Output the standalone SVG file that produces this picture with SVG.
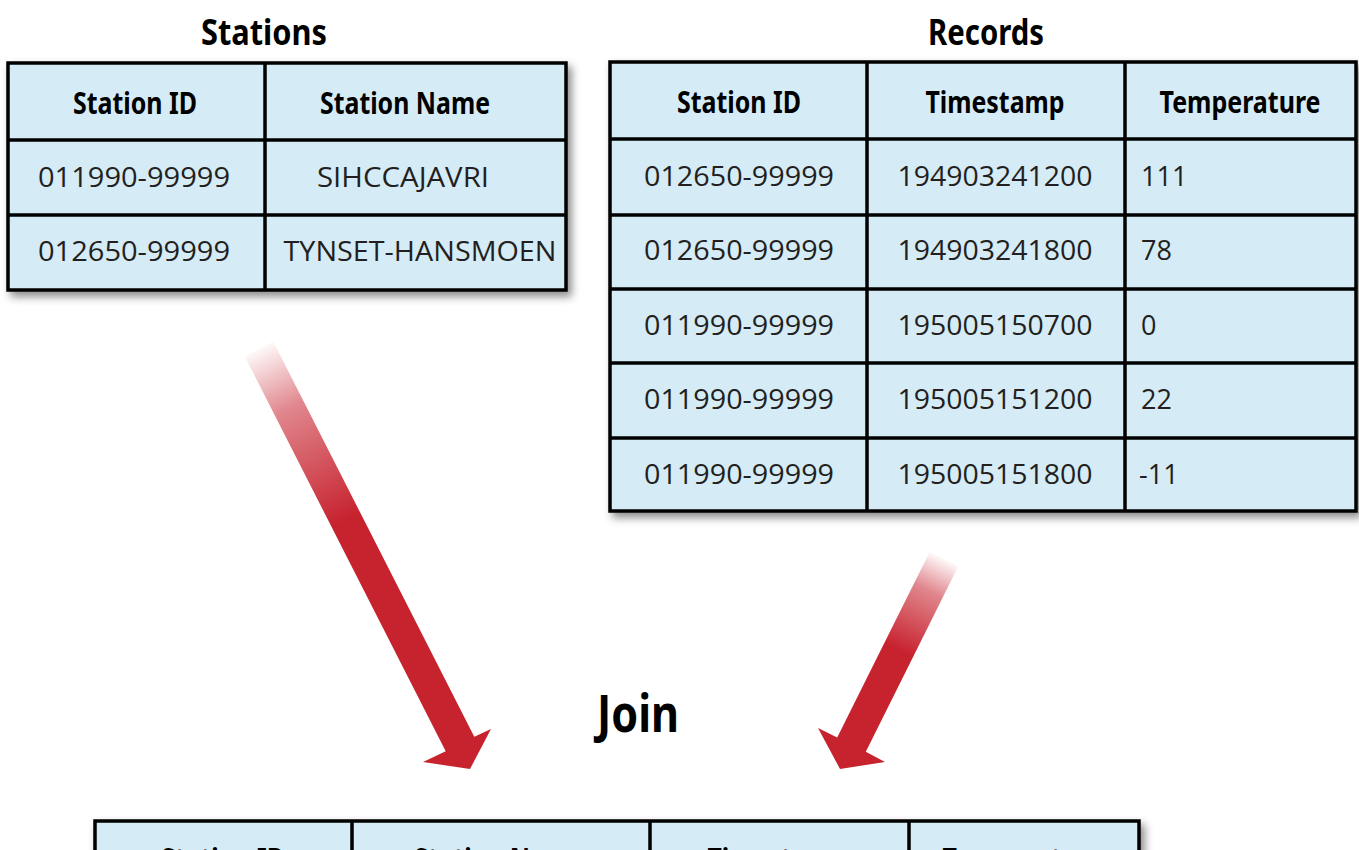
<svg xmlns="http://www.w3.org/2000/svg" width="1359" height="850" viewBox="0 0 1359 850">
<defs>
<filter id="sh" x="-5%" y="-5%" width="115%" height="120%">
<feDropShadow dx="4" dy="5" stdDeviation="4" flood-color="#000" flood-opacity="0.45"/>
</filter>
<linearGradient id="gL" gradientUnits="userSpaceOnUse" x1="259" y1="349" x2="345" y2="520">
<stop offset="0" stop-color="#c7232f" stop-opacity="0.03"/>
<stop offset="0.35" stop-color="#c7232f" stop-opacity="0.55"/>
<stop offset="1" stop-color="#c7232f" stop-opacity="1"/>
</linearGradient>
<linearGradient id="gR" gradientUnits="userSpaceOnUse" x1="944" y1="559" x2="900" y2="650">
<stop offset="0" stop-color="#c7232f" stop-opacity="0.03"/>
<stop offset="0.35" stop-color="#c7232f" stop-opacity="0.55"/>
<stop offset="1" stop-color="#c7232f" stop-opacity="1"/>
</linearGradient>
</defs>
<style>
.cell{fill:#d5ebf6;stroke:#000;stroke-width:3.5}
.ln{stroke:#000;stroke-width:3.5;fill:none}
.title{font-family:"Noto Sans","DejaVu Sans",sans-serif;font-weight:bold;font-size:36px;fill:#000;text-anchor:middle}
.hd{font-family:"Noto Sans","DejaVu Sans",sans-serif;font-weight:bold;font-size:31px;fill:#000;text-anchor:middle}
.tx{font-family:"Open Sans","Noto Sans",sans-serif;font-size:27px;fill:#231f20;text-anchor:middle}
.tl{font-family:"Open Sans","Noto Sans",sans-serif;font-size:27px;fill:#231f20;text-anchor:start}
</style>
<rect width="1359" height="850" fill="#fff"/>

<g id="stations">
<text class="title" x="264" y="45" textLength="126" lengthAdjust="spacingAndGlyphs">Stations</text>
<g filter="url(#sh)">
<rect class="cell" x="8" y="63" width="558" height="227"/>
</g>
<line class="ln" x1="265" y1="63" x2="265" y2="290"/>
<line class="ln" x1="8" y1="140" x2="566" y2="140"/>
<line class="ln" x1="8" y1="215" x2="566" y2="215"/>
<text class="hd" x="135" y="114" textLength="124" lengthAdjust="spacingAndGlyphs">Station ID</text>
<text class="hd" x="405" y="114" textLength="170" lengthAdjust="spacingAndGlyphs">Station Name</text>
<text class="tx" x="134" y="187" textLength="192" lengthAdjust="spacingAndGlyphs">011990-99999</text>
<text class="tx" x="403" y="187" textLength="172" lengthAdjust="spacingAndGlyphs">SIHCCAJAVRI</text>
<text class="tx" x="134" y="261" textLength="192" lengthAdjust="spacingAndGlyphs">012650-99999</text>
<text class="tx" x="420" y="261" textLength="273" lengthAdjust="spacingAndGlyphs">TYNSET-HANSMOEN</text>
</g>

<g id="records">
<text class="title" x="986" y="45" textLength="116" lengthAdjust="spacingAndGlyphs">Records</text>
<g filter="url(#sh)">
<rect class="cell" x="610" y="62" width="746" height="449"/>
</g>
<line class="ln" x1="867" y1="62" x2="867" y2="511"/>
<line class="ln" x1="1125" y1="62" x2="1125" y2="511"/>
<line class="ln" x1="610" y1="139" x2="1356" y2="139"/>
<line class="ln" x1="610" y1="215" x2="1356" y2="215"/>
<line class="ln" x1="610" y1="289" x2="1356" y2="289"/>
<line class="ln" x1="610" y1="363" x2="1356" y2="363"/>
<line class="ln" x1="610" y1="438" x2="1356" y2="438"/>
<text class="hd" x="739" y="113" textLength="124" lengthAdjust="spacingAndGlyphs">Station ID</text>
<text class="hd" x="995" y="113" textLength="139" lengthAdjust="spacingAndGlyphs">Timestamp</text>
<text class="hd" x="1240" y="113" textLength="161" lengthAdjust="spacingAndGlyphs">Temperature</text>
<text class="tx" x="739" y="186" textLength="190" lengthAdjust="spacingAndGlyphs">012650-99999</text>
<text class="tx" x="995" y="186" textLength="195" lengthAdjust="spacingAndGlyphs">194903241200</text>
<text class="tl" x="1141" y="186">111</text>
<text class="tx" x="739" y="260" textLength="190" lengthAdjust="spacingAndGlyphs">012650-99999</text>
<text class="tx" x="995" y="260" textLength="195" lengthAdjust="spacingAndGlyphs">194903241800</text>
<text class="tl" x="1141" y="260">78</text>
<text class="tx" x="739" y="335" textLength="190" lengthAdjust="spacingAndGlyphs">011990-99999</text>
<text class="tx" x="995" y="335" textLength="195" lengthAdjust="spacingAndGlyphs">195005150700</text>
<text class="tl" x="1141" y="335">0</text>
<text class="tx" x="739" y="409" textLength="190" lengthAdjust="spacingAndGlyphs">011990-99999</text>
<text class="tx" x="995" y="409" textLength="195" lengthAdjust="spacingAndGlyphs">195005151200</text>
<text class="tl" x="1141" y="409">22</text>
<text class="tx" x="739" y="484" textLength="190" lengthAdjust="spacingAndGlyphs">011990-99999</text>
<text class="tx" x="995" y="484" textLength="195" lengthAdjust="spacingAndGlyphs">195005151800</text>
<text class="tl" x="1139" y="484">-11</text>
</g>

<g id="connectors">
<polygon fill="url(#gL)" points="244.7,356.2 273.3,341.8 474.3,736.8 491,729 470,769 423,762 445.7,751.2"/>
<polygon fill="url(#gR)" points="929.7,551.9 958.3,566.2 865.8,751.7 885,762 840,769 818,728 837.2,737.4"/>
</g>

<g id="join">
<text class="title" x="638" y="732" font-size="52" textLength="82" lengthAdjust="spacingAndGlyphs" style="font-size:52px">Join</text>
</g>

<g id="result">
<g filter="url(#sh)">
<rect class="cell" x="95" y="821" width="1044" height="100"/>
</g>
<line class="ln" x1="352" y1="821" x2="352" y2="921"/>
<line class="ln" x1="650" y1="821" x2="650" y2="921"/>
<line class="ln" x1="909" y1="821" x2="909" y2="921"/>
<text class="hd" x="223" y="870" textLength="124" lengthAdjust="spacingAndGlyphs">Station ID</text>
<text class="hd" x="499" y="870" textLength="170" lengthAdjust="spacingAndGlyphs">Station Name</text>
<text class="hd" x="777" y="870" textLength="139" lengthAdjust="spacingAndGlyphs">Timestamp</text>
<text class="hd" x="1023" y="870" textLength="161" lengthAdjust="spacingAndGlyphs">Temperature</text>
</g>
</svg>
